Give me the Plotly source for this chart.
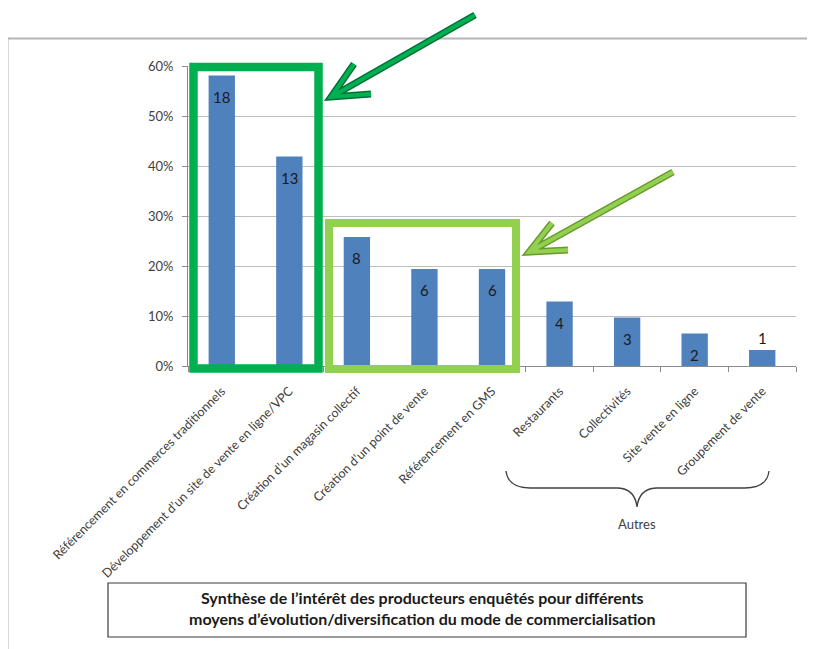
import plotly.graph_objects as go

categories = [
    "Référencement en commerces traditionnels",
    "Développement d’un site de vente en ligne/VPC",
    "Création d’un magasin collectif",
    "Création d’un point de vente",
    "Référencement en GMS",
    "Restaurants",
    "Collectivités",
    "Site vente en ligne",
    "Groupement de vente",
]
shares = [0.581, 0.419, 0.258, 0.194, 0.194, 0.129, 0.097, 0.065, 0.032]
counts = [18, 13, 8, 6, 6, 4, 3, 2, 1]
y_ticks = [0, 0.1, 0.2, 0.3, 0.4, 0.5, 0.6]
caption = ("Synthèse de l’intérêt des producteurs enquêtés pour différents<br>"
           "moyens d’évolution/diversification du mode de commercialisation")
group_label = "Autres"

W, H = 815, 649
OFF = 8  # page body margin of the browser
# plot area in window pixels: x 188..796, y 66..366
PL, PR, PT, PB = 188, 796, 66, 366
L = PL - OFF
T = PT - OFF
PW, PH = PR - PL, PB - PT
R = W - L - PW
B = H - T - PH


def px(x):
    return (x - PL) / PW


def py(y):
    return (PB - y) / PH


def path(points_groups):
    s = ""
    for grp in points_groups:
        for i, (x, y) in enumerate(grp):
            s += ("M" if i == 0 else "L") + f"{px(x):.5f},{py(y):.5f} "
    return s


FONT = "Lato, 'Open Sans', sans-serif"

fig = go.Figure()
fig.add_trace(go.Bar(
    x=categories, y=shares, marker=dict(color="#4F81BD", line=dict(width=0)),
    width=0.39, hoverinfo="x+y",
))

annotations = []
for c, v, n in zip(categories, shares, counts):
    inside = v > 0.05
    annotations.append(dict(
        x=c, y=v, xref="x", yref="y", text=str(n), showarrow=False,
        yanchor="middle", yshift=-21 if inside else 12,
        font=dict(family=FONT, size=15, color="#1b1b1b"),
    ))

annotations.append(dict(
    x=px(637), y=py(524), xref="paper", yref="paper", text=group_label,
    showarrow=False, xanchor="center", yanchor="middle",
    font=dict(family=FONT, size=13, color="#404040"),
))
annotations.append(dict(
    x=px(422), y=py(608), xref="paper", yref="paper", text=caption,
    showarrow=False, xanchor="center", yanchor="middle", align="center",
    font=dict(family=FONT, size=16, color="#1a1a1a", weight="bold"),
))

shapes = []
# left beige strip outside the frame
shapes.append(dict(type="rect", xref="paper", yref="paper", layer="below",
                   x0=px(0), x1=px(7), y0=py(0), y1=py(H + 20),
                   fillcolor="#FAF3E6", line=dict(width=0)))
# outer frame
shapes.append(dict(type="rect", xref="paper", yref="paper", layer="below",
                   x0=px(7.5), x1=px(W + 20), y0=py(38.5), y1=py(H + 20),
                   fillcolor="rgba(0,0,0,0)", line=dict(color="#B4B4B4", width=2)))
# green highlight boxes
shapes.append(dict(type="rect", xref="paper", yref="paper",
                   x0=px(193.5), x1=px(318.5), y0=py(67), y1=py(368.5),
                   line=dict(color="#00B050", width=8.5)))
shapes.append(dict(type="rect", xref="paper", yref="paper",
                   x0=px(329), x1=px(516), y0=py(223), y1=py(369),
                   line=dict(color="#92D050", width=8)))
# arrows
arrow1 = [[(475, 15), (331, 97)], [(354, 64), (331, 97), (371, 94)]]
arrow2 = [[(673, 172), (529, 252)], [(552, 223), (529, 252), (568, 250)]]
for pts, dark, light in [(arrow1, "#00703A", "#00B050"), (arrow2, "#6B9A30", "#92D050")]:
    shapes.append(dict(type="path", xref="paper", yref="paper", path=path(pts),
                       line=dict(color=dark, width=7)))
    shapes.append(dict(type="path", xref="paper", yref="paper", path=path(pts),
                       line=dict(color=light, width=4)))
# brace under "Autres"
brace = (f"M{px(506):.5f},{py(471):.5f} "
         f"Q{px(508):.5f},{py(488):.5f} {px(530):.5f},{py(488):.5f} "
         f"L{px(618):.5f},{py(488):.5f} "
         f"Q{px(635):.5f},{py(489):.5f} {px(637):.5f},{py(507):.5f} "
         f"Q{px(639):.5f},{py(489):.5f} {px(656):.5f},{py(488):.5f} "
         f"L{px(745):.5f},{py(488):.5f} "
         f"Q{px(767):.5f},{py(488):.5f} {px(769):.5f},{py(471):.5f}")
shapes.append(dict(type="path", xref="paper", yref="paper", path=brace,
                   line=dict(color="#404040", width=1.3)))
# caption box
shapes.append(dict(type="rect", xref="paper", yref="paper",
                   x0=px(108), x1=px(746), y0=py(583), y1=py(637),
                   fillcolor="rgba(0,0,0,0)", line=dict(color="#3a3a3a", width=1.2)))

fig.update_layout(
    width=W, height=H,
    margin=dict(l=L, r=R, t=T, b=B, autoexpand=False),
    paper_bgcolor="white", plot_bgcolor="white",
    showlegend=False, bargap=0.6,
    font=dict(family=FONT, size=12, color="#404040"),
    xaxis=dict(
        type="category", tickangle=-45, showgrid=False,
        showline=True, linecolor="#8C8C8C", linewidth=1,
        ticks="outside", tickson="boundaries", ticklen=5, tickcolor="#8C8C8C",
        tickfont=dict(family=FONT, size=12.5, color="#404040"),
        ticklabelstandoff=12,
    ),
    yaxis=dict(
        range=[0, 0.6], tickvals=y_ticks, tickformat=".0%",
        showgrid=True, gridcolor="#BEBEBE", gridwidth=1,
        showline=True, linecolor="#8C8C8C", linewidth=1,
        ticks="outside", ticklen=5, tickcolor="#8C8C8C",
        tickfont=dict(family=FONT, size=13, color="#404040"),
        ticklabelstandoff=6,
        zeroline=False,
    ),
    annotations=annotations, shapes=shapes,
)

fig.write_html("out.html")
